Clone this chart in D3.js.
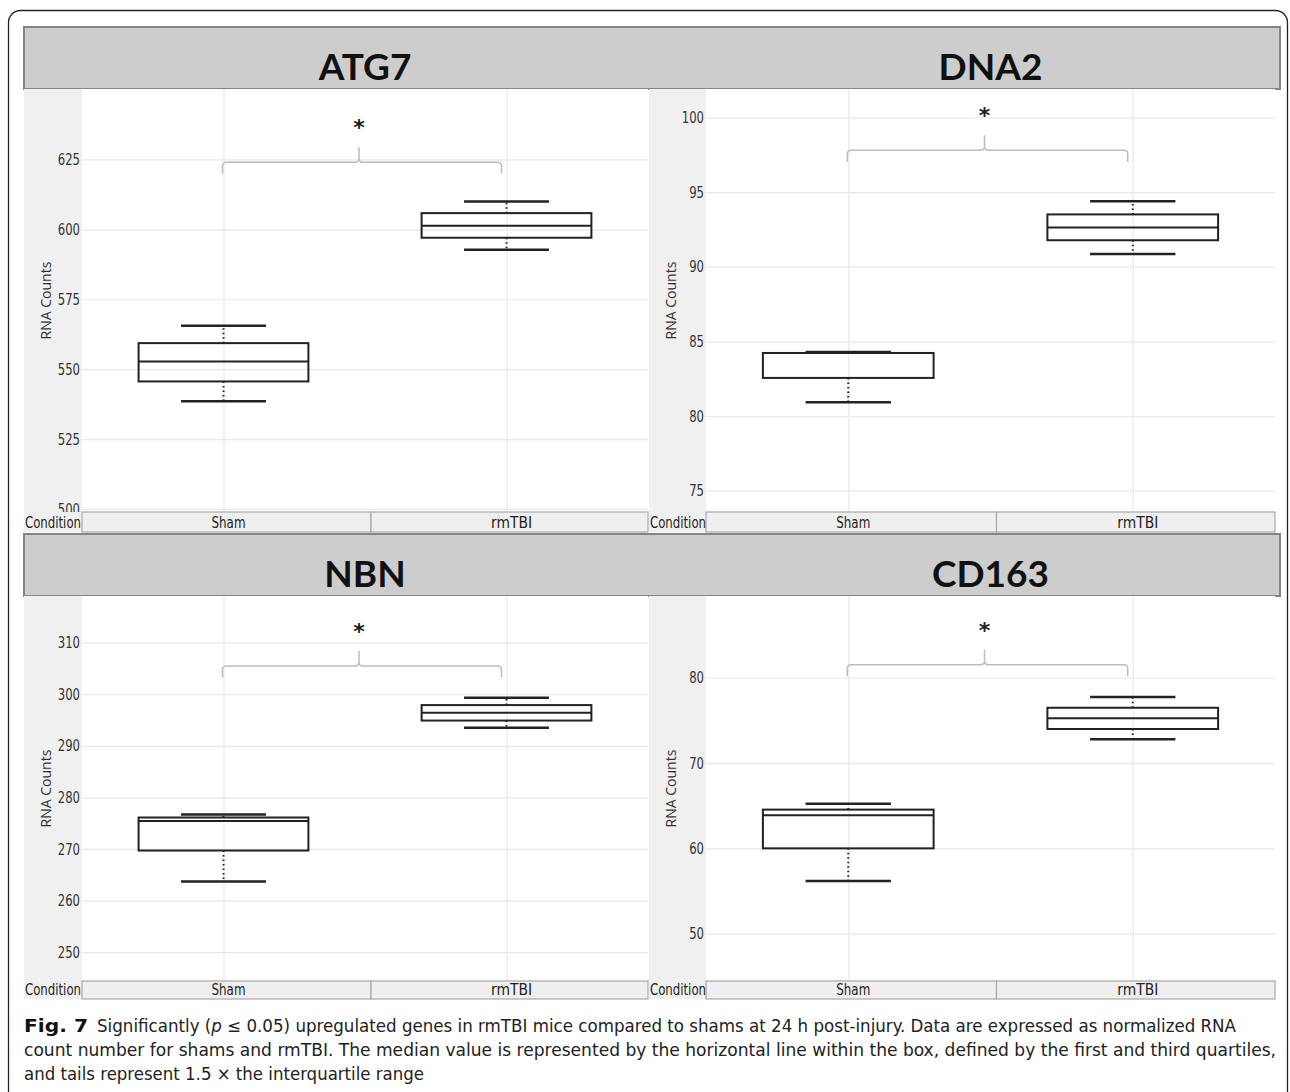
<!DOCTYPE html>
<html><head><meta charset="utf-8">
<script src="https://cdn.jsdelivr.net/npm/d3@7"></script>
<style>
body{margin:0;background:#fff;}
svg{display:block;}
</style></head>
<body><svg id="chart" width="1290" height="1092"></svg>
<script>
// ---------- data ----------
const genes = ["ATG7", "DNA2", "NBN", "CD163"];
const conditions = ["Sham", "rmTBI"];
// [lower whisker, Q1, median, Q3, upper whisker]
const atg7Sham  = [538.5, 545.6, 552.7, 559.3, 565.5];
const atg7Tbi   = [592.7, 597.0, 601.3, 605.8, 610.0];
const dna2Sham  = [80.92, 82.55, 84.22, 84.22, 84.28];
const dna2Tbi   = [90.85, 91.77, 92.62, 93.50, 94.38];
const nbnSham   = [263.7, 269.7, 275.4, 276.1, 276.7];
const nbnTbi    = [293.5, 294.9, 296.4, 297.9, 299.3];
const cd163Sham = [56.17, 60.00, 63.87, 64.54, 65.24];
const cd163Tbi  = [72.78, 73.99, 75.24, 76.48, 77.74];
const yDomains = [[498.9, 650.2], [73.57, 101.9], [244.4, 319.05], [44.45, 89.58]];
const yTicks = [
  [500, 525, 550, 575, 600, 625],
  [75, 80, 85, 90, 95, 100],
  [250, 260, 270, 280, 290, 300, 310],
  [50, 60, 70, 80]
];
const bracketLevels = [624.0, 97.79, 305.5, 81.52];
const significance = ["*", "*", "*", "*"];
const yAxisLabel = "RNA Counts";
const xAxisLabel = "Condition";
const captionBold = "Fig. 7";
const captionLines = [
  ["Significantly (", "p", " ≤ 0.05) upregulated genes in rmTBI mice compared to shams at 24 h post-injury. Data are expressed as normalized RNA"],
  ["count number for shams and rmTBI. The median value is represented by the horizontal line within the box, defined by the first and third quartiles,"],
  ["and tails represent 1.5 × the interquartile range"]
];
const boxData = [[atg7Sham, atg7Tbi], [dna2Sham, dna2Tbi], [nbnSham, nbnTbi], [cd163Sham, cd163Tbi]];

// ---------- layout ----------
const svg = d3.select("#chart");
const cols = [
  {strip0: 24, plot0: 82, plot1: 648},
  {strip0: 649, plot0: 706, plot1: 1275}
];
const rows = [
  {title0: 27, title1: 89, plot0: 89, plot1: 512, strip1: 532},
  {title0: 534, title1: 596, plot0: 596, plot1: 981, strip1: 999}
];
const narrow = '"DejaVu Sans Condensed","DejaVu Sans",sans-serif';
const condWidths = {"Sham": 34, "rmTBI": 41};

// outer frame
svg.append("rect").attr("x", 8.5).attr("y", 10.5).attr("width", 1279).attr("height", 1110)
  .attr("rx", 12).attr("fill", "#fff").attr("stroke", "#222").attr("stroke-width", 1.3);

// title bars (one per row)
rows.forEach(r => {
  svg.append("rect").attr("x", 24).attr("y", r.title0).attr("width", 1256).attr("height", r.title1 - r.title0)
    .attr("fill", "#cdcdcd").attr("stroke", "#858585").attr("stroke-width", 2);
});

genes.forEach((gene, gi) => {
  const c = cols[gi % 2], r = rows[Math.floor(gi / 2)];
  const g = svg.append("g");

  // left grey strip
  g.append("rect").attr("x", c.strip0).attr("y", r.plot0).attr("width", c.plot0 - c.strip0)
    .attr("height", r.strip1 - r.plot0).attr("fill", "#f0f0f0");
  // plot background
  g.append("rect").attr("x", c.plot0).attr("y", r.plot0).attr("width", c.plot1 - c.plot0)
    .attr("height", r.plot1 - r.plot0).attr("fill", "#fff");

  const x = d3.scalePoint().domain(conditions).range([c.plot0, c.plot1]).padding(0.5);
  const y = d3.scaleLinear().domain(yDomains[gi]).range([r.plot1, r.plot0]);
  const step = x.step();

  // grid lines
  const gridY = g.append("g").attr("transform", `translate(${c.plot0},0)`)
    .call(d3.axisLeft(y).tickValues(yTicks[gi]).tickSize(-(c.plot1 - c.plot0)).tickFormat(""));
  gridY.select(".domain").remove();
  gridY.selectAll("line").attr("stroke", "#e8e8e8").attr("stroke-width", 1.2);
  const gridX = g.append("g").attr("transform", `translate(0,${r.plot1})`)
    .call(d3.axisBottom(x).tickSize(-(r.plot1 - r.plot0)).tickFormat(""));
  gridX.select(".domain").remove();
  gridX.selectAll("line").attr("stroke", "#e8e8e8").attr("stroke-width", 1.2);

  // y axis labels
  const ax = g.append("g").attr("transform", `translate(${c.plot0},0)`)
    .call(d3.axisLeft(y).tickValues(yTicks[gi]).tickSize(0).tickPadding(2));
  ax.select(".domain").remove();
  ax.selectAll("text").attr("font-size", 16).attr("fill", "#333").attr("font-family", narrow)
    .attr("textLength", d => String(d).length * 7.4).attr("lengthAdjust", "spacingAndGlyphs");

  // y axis title
  g.append("text").attr("transform", `translate(${c.strip0 + 27},${(r.plot0 + r.plot1) / 2}) rotate(-90)`)
    .attr("text-anchor", "middle").attr("font-family", '"Open Sans",sans-serif').attr("font-size", 14)
    .attr("fill", "#333").text(yAxisLabel);

  // boxes
  const bw = step * 0.6, cw = bw / 2;
  conditions.forEach((cond, ci) => {
    const d = boxData[gi][ci];
    const cx = x(cond);
    const bg = g.append("g");
    bg.append("line").attr("x1", cx).attr("x2", cx).attr("y1", y(d[3])).attr("y2", y(d[4]))
      .attr("stroke", "#222").attr("stroke-width", 2).attr("stroke-dasharray", "1.5,3");
    bg.append("line").attr("x1", cx).attr("x2", cx).attr("y1", y(d[1])).attr("y2", y(d[0]))
      .attr("stroke", "#222").attr("stroke-width", 2).attr("stroke-dasharray", "1.5,3");
    [d[0], d[4]].forEach(v => {
      bg.append("line").attr("x1", cx - cw / 2).attr("x2", cx + cw / 2).attr("y1", y(v)).attr("y2", y(v))
        .attr("stroke", "#222").attr("stroke-width", 2.5);
    });
    bg.append("rect").attr("x", cx - bw / 2).attr("y", y(d[3])).attr("width", bw)
      .attr("height", Math.max(0.5, y(d[1]) - y(d[3]))).attr("fill", "none")
      .attr("stroke", "#222").attr("stroke-width", 2);
    bg.append("line").attr("x1", cx - bw / 2).attr("x2", cx + bw / 2).attr("y1", y(d[2])).attr("y2", y(d[2]))
      .attr("stroke", "#222").attr("stroke-width", 2);
  });

  // significance bracket
  const xl = x(conditions[0]) - 1, xr = x(conditions[1]) - 5, xm = (xl + xr) / 2 - 3;
  const yb = y(bracketLevels[gi]), leg = 11.5, rad = 4, tick = 15;
  const p = d3.path();
  p.moveTo(xl, yb + leg);
  p.lineTo(xl, yb + rad);
  p.quadraticCurveTo(xl, yb, xl + rad, yb);
  p.lineTo(xm - rad, yb);
  p.quadraticCurveTo(xm, yb, xm, yb - rad);
  p.lineTo(xm, yb - tick);
  p.moveTo(xm, yb - rad);
  p.quadraticCurveTo(xm, yb, xm + rad, yb);
  p.lineTo(xr - rad, yb);
  p.quadraticCurveTo(xr, yb, xr, yb + rad);
  p.lineTo(xr, yb + leg);
  g.append("path").attr("d", p.toString()).attr("fill", "none").attr("stroke", "#bcbcbc").attr("stroke-width", 1.5);
  g.append("text").attr("x", xm).attr("y", yb - 27).attr("text-anchor", "middle")
    .attr("font-family", '"DejaVu Sans",sans-serif').attr("font-weight", 700).attr("font-size", 22).attr("fill", "#222")
    .text(significance[gi]);

  // condition strip
  g.append("rect").attr("x", c.strip0).attr("y", r.plot1).attr("width", c.plot0 - c.strip0)
    .attr("height", r.strip1 - r.plot1).attr("fill", "#f0f0f0");
  const divider = (x(conditions[0]) + x(conditions[1])) / 2 + 6;
  const cells = [[c.plot0, divider], [divider, c.plot1]];
  cells.forEach((cell, ci) => {
    g.append("rect").attr("x", cell[0]).attr("y", r.plot1).attr("width", cell[1] - cell[0])
      .attr("height", r.strip1 - r.plot1).attr("fill", "#efefef").attr("stroke", "#a8a8a8").attr("stroke-width", 1.2);
    g.append("text").attr("x", (cell[0] + cell[1]) / 2 + 2).attr("y", r.strip1 - 4.5).attr("text-anchor", "middle")
      .attr("font-family", narrow).attr("font-size", 16).attr("fill", "#222")
      .attr("textLength", condWidths[conditions[ci]]).attr("lengthAdjust", "spacingAndGlyphs")
      .text(conditions[ci]);
  });
  g.append("text").attr("x", c.strip0 + 1).attr("y", r.strip1 - 4.5)
    .attr("font-family", narrow).attr("font-size", 16).attr("fill", "#222")
    .attr("textLength", 56).attr("lengthAdjust", "spacingAndGlyphs").text(xAxisLabel);

  // title
  svg.append("text").attr("x", (c.plot0 + c.plot1) / 2).attr("y", r.title0 + 53)
    .attr("text-anchor", "middle").attr("font-family", "Lato,sans-serif").attr("font-weight", 700)
    .attr("font-size", 37).attr("fill", "#111").text(gene);
});

// caption
const capFont = '"DejaVu Sans Condensed","DejaVu Sans",sans-serif';
const capY = [1032, 1056, 1080];
const capX0 = [97, 24, 24];
const capX1 = [1236, 1276, 424];
svg.append("text").attr("x", 24).attr("y", capY[0]).attr("font-family", capFont).attr("font-weight", 700)
  .attr("font-size", 17).attr("fill", "#111").attr("textLength", 64).attr("lengthAdjust", "spacingAndGlyphs")
  .text(captionBold);
captionLines.forEach((parts, i) => {
  const t = svg.append("text").attr("x", capX0[i]).attr("y", capY[i]).attr("font-family", capFont)
    .attr("font-size", 17).attr("fill", "#222")
    .attr("textLength", capX1[i] - capX0[i]).attr("lengthAdjust", "spacingAndGlyphs");
  parts.forEach((s, k) => {
    const ts = t.append("tspan").text(s);
    if (parts.length === 3 && k === 1) ts.attr("font-style", "italic");
  });
});
</script></body></html>
